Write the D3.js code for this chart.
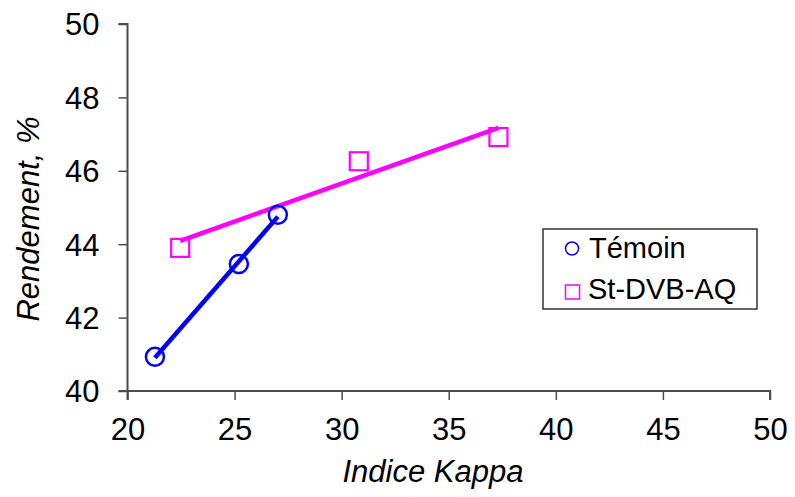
<!DOCTYPE html>
<html>
<head>
<meta charset="utf-8">
<script src="https://cdn.jsdelivr.net/npm/d3@7"></script>
<style>
  body { margin: 0; background: #fff; }
  svg text { font-family: Arial, "Liberation Sans", sans-serif; fill: #000; }
</style>
</head>
<body>
<svg id="chart" width="795" height="497"></svg>
<script>
// ---- data ----
const temoinX = [21.28, 25.2, 27.02];
const temoinY = [40.93, 43.46, 44.80];
const stdvbX = [22.46, 30.8, 37.32];
const stdvbY = [43.90, 46.26, 46.92];
const xTicks = [20, 25, 30, 35, 40, 45, 50];
const yTicks = [40, 42, 44, 46, 48, 50];
const seriesNames = ["Témoin", "St-DVB-AQ"];
const xTitle = "Indice Kappa";
const yTitle = "Rendement, %";

// ---- layout ----
const svg = d3.select("#chart");
const x = d3.scaleLinear().domain([20, 50]).range([127.5, 770]);
const y = d3.scaleLinear().domain([40, 50]).range([391, 24]);
const axisColor = "#4d4d4d";
const fontSize = 31;

// linear regression (trendline) from data
function fit(xs, ys) {
  const mx = d3.mean(xs), my = d3.mean(ys);
  let sxy = 0, sxx = 0;
  xs.forEach((v, i) => { sxy += (v - mx) * (ys[i] - my); sxx += (v - mx) * (v - mx); });
  const b = sxy / sxx, a = my - b * mx;
  const x0 = d3.min(xs), x1 = d3.max(xs);
  return [[x0, a + b * x0], [x1, a + b * x1]];
}

// axes
const xAxis = svg.append("g").attr("transform", `translate(0,${y(40)})`)
  .call(d3.axisBottom(x).tickValues(xTicks).tickSize(9).tickFormat(d3.format("d")));
const yAxis = svg.append("g").attr("transform", `translate(${x(20)},0)`)
  .call(d3.axisLeft(y).tickValues(yTicks).tickSize(9).tickPadding(19).tickFormat(d3.format("d")));
[xAxis, yAxis].forEach(g => {
  g.select(".domain").attr("stroke", axisColor).attr("stroke-width", 2);
  g.selectAll(".tick line").attr("stroke", axisColor).attr("stroke-width", 1.5);
  g.selectAll(".tick text").attr("font-size", fontSize)
    .attr("font-family", "Arial, 'Liberation Sans', sans-serif").attr("fill", "#000");
});
// extend domain slightly beyond ends like Excel
xAxis.select(".domain").attr("d", `M${x(20) - 9},0H${x(50)}V9`);
yAxis.select(".domain").attr("d", `M-9,${y(50)}H0V${y(40) + 9}`);
xAxis.selectAll(".tick text").attr("y", 49).attr("dy", 0);
yAxis.selectAll(".tick text").attr("dy", "0.35em");

// titles
svg.append("text").attr("x", 433).attr("y", 482)
  .attr("text-anchor", "middle").attr("font-size", fontSize).attr("font-style", "italic")
  .text(xTitle);
svg.append("text").attr("transform", `translate(38.5,219) rotate(-90)`)
  .attr("text-anchor", "middle").attr("font-size", fontSize).attr("font-style", "italic")
  .text(yTitle);

// trendlines
const line = d3.line().x(d => x(d[0])).y(d => y(d[1]));
svg.append("path").attr("d", line(fit(temoinX, temoinY)))
  .attr("stroke", "#0000ff").attr("stroke-width", 4.5).attr("fill", "none");
svg.append("path").attr("d", line(fit(stdvbX, stdvbY)))
  .attr("stroke", "#ff00ff").attr("stroke-width", 4.5).attr("fill", "none");

// markers
svg.append("g").selectAll("circle").data(temoinX.map((v, i) => [v, temoinY[i]])).join("circle")
  .attr("cx", d => x(d[0])).attr("cy", d => y(d[1])).attr("r", 9)
  .attr("fill", "none").attr("stroke", "#0000ff").attr("stroke-width", 2.5);
const sq = 18;
svg.append("g").selectAll("rect").data(stdvbX.map((v, i) => [v, stdvbY[i]])).join("rect")
  .attr("x", d => x(d[0]) - sq / 2).attr("y", d => y(d[1]) - sq / 2)
  .attr("width", sq).attr("height", sq)
  .attr("fill", "none").attr("stroke", "#ff00ff").attr("stroke-width", 2.2);

// legend
const lg = svg.append("g");
lg.append("rect").attr("x", 543).attr("y", 229).attr("width", 214).attr("height", 80)
  .attr("fill", "#fff").attr("stroke", "#333").attr("stroke-width", 1.5);
lg.append("circle").attr("cx", 572).attr("cy", 248.5).attr("r", 6.5)
  .attr("fill", "none").attr("stroke", "#0000ff").attr("stroke-width", 1.5);
lg.append("rect").attr("x", 565.5).attr("y", 285).attr("width", 14).attr("height", 14)
  .attr("fill", "none").attr("stroke", "#ff00ff").attr("stroke-width", 1.5);
lg.append("text").attr("x", 589).attr("y", 258).attr("font-size", 29).text(seriesNames[0]);
lg.append("text").attr("x", 588).attr("y", 299).attr("font-size", 29).text(seriesNames[1]);
</script>
</body>
</html>
